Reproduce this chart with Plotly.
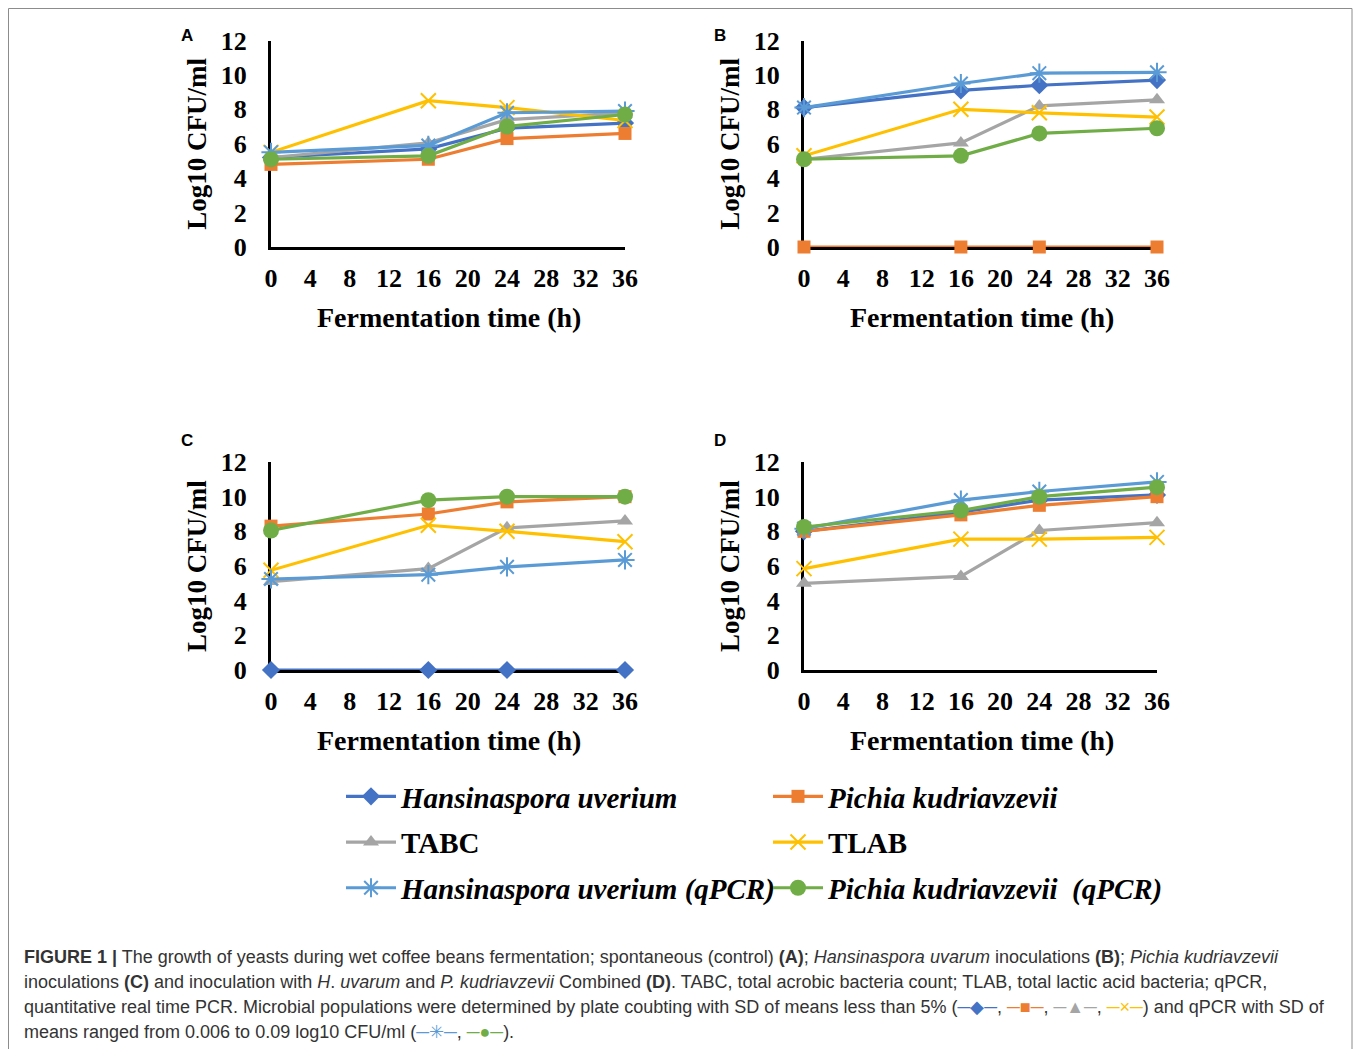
import plotly.graph_objects as go

W, H = 1357, 1049

# ---------------- data ----------------
times = [0, 16, 24, 36]
x_ticks = [0, 4, 8, 12, 16, 20, 24, 28, 32, 36]
y_ticks = [0, 2, 4, 6, 8, 10, 12]

series_names = [
    "<i>Hansinaspora uverium</i>",
    "<i>Pichia kudriavzevii</i>",
    "TABC",
    "TLAB",
    "<i>Hansinaspora uverium (qPCR)</i>",
    "<i>Pichia kudriavzevii  (qPCR)</i>",
]

# Panel A: spontaneous (control)
hu_A = [5.2, 5.7, 6.9, 7.2]
pk_A = [4.8, 5.1, 6.3, 6.6]
tabc_A = [5.2, 6.05, 7.4, 7.8]
tlab_A = [5.5, 8.5, 8.1, 7.35]
huq_A = [5.5, 5.9, 7.8, 7.9]
pkq_A = [5.1, 5.3, 7.0, 7.7]

# Panel B: H. uvarum inoculation
hu_B = [8.1, 9.1, 9.4, 9.7]
pk_B = [0, 0, 0, 0]
tabc_B = [5.1, 6.05, 8.2, 8.55]
tlab_B = [5.3, 8.0, 7.8, 7.55]
huq_B = [8.1, 9.5, 10.1, 10.15]
pkq_B = [5.1, 5.3, 6.6, 6.9]

# Panel C: P. kudriavzevii inoculation
hu_C = [0, 0, 0, 0]
pk_C = [8.3, 9.0, 9.7, 10.0]
tabc_C = [5.1, 5.85, 8.2, 8.6]
tlab_C = [5.75, 8.35, 8.0, 7.4]
huq_C = [5.25, 5.5, 5.95, 6.35]
pkq_C = [8.05, 9.8, 10.0, 10.0]

# Panel D: combined inoculation
hu_D = [8.0, 9.1, 9.8, 10.1]
pk_D = [8.0, 8.95, 9.5, 10.0]
tabc_D = [5.0, 5.4, 8.05, 8.5]
tlab_D = [5.85, 7.55, 7.55, 7.65]
huq_D = [8.15, 9.8, 10.3, 10.85]
pkq_D = [8.25, 9.2, 10.0, 10.55]

panel_letters = ["A", "B", "C", "D"]

# ---------------- styles ----------------
colors = ["#4472C4", "#ED7D31", "#A5A5A5", "#FFC000", "#5B9BD5", "#70AD47"]
symbols = ["diamond", "square", "triangle-up", "x-thin-open", "asterisk-open", "circle"]
msizes = [14, 13, 14, 15, 16, 16]
legend_ids = ["legend", "legend2", "legend", "legend2", "legend", "legend2"]

SERIF = "Liberation Serif, Times New Roman, serif"
SANS = "Liberation Sans, Arial, sans-serif"


def px_x(px):
    return px / W


def px_y(py):
    return 1 - py / H


# panel geometry in pixels: (x at 0h, x at 36h, y at 12, y at 0)
geom = [
    (271, 625, 40.5, 247),
    (804, 1157, 40.5, 247),
    (271, 625, 462, 670),
    (804, 1157, 462, 670),
]

panels = [
    [hu_A, pk_A, tabc_A, tlab_A, huq_A, pkq_A],
    [hu_B, pk_B, tabc_B, tlab_B, huq_B, pkq_B],
    [hu_C, pk_C, tabc_C, tlab_C, huq_C, pkq_C],
    [hu_D, pk_D, tabc_D, tlab_D, huq_D, pkq_D],
]

fig = go.Figure()
layout = dict(
    width=W,
    height=H,
    margin=dict(l=0, r=0, t=0, b=0, pad=0, autoexpand=False),
    paper_bgcolor="white",
    plot_bgcolor="rgba(0,0,0,0)",
    showlegend=True,
)

annotations = []
for p, data in enumerate(panels):
    sfx = "" if p == 0 else str(p + 1)
    x0, x1, ytop, ybot = geom[p]
    for i, vals in enumerate(data):
        fig.add_trace(
            go.Scatter(
                x=times,
                y=vals,
                mode="lines+markers",
                name=series_names[i],
                line=dict(color=colors[i], width=3.2),
                marker=dict(
                    symbol=symbols[i],
                    size=msizes[i],
                    color=colors[i],
                    line=dict(color=colors[i], width=2 if "open" in symbols[i] else 0),
                ),
                xaxis="x" + sfx,
                yaxis="y" + sfx,
                cliponaxis=False,
                showlegend=(p == 0),
                legend=legend_ids[i],
                legendgroup="g%d" % i,
            )
        )
    layout["xaxis" + sfx] = dict(
        domain=[px_x(x0), px_x(x1)],
        range=[0, 36],
        anchor="y" + sfx,
        tickmode="array",
        tickvals=x_ticks,
        ticktext=[str(t) for t in x_ticks],
        showline=True,
        linecolor="black",
        linewidth=3,
        showgrid=False,
        zeroline=False,
        ticks="",
        automargin=False,
        ticklabelstandoff=6,
        tickfont=dict(family=SERIF, size=26, color="black", weight="bold"),
        layer="below traces",
        fixedrange=True,
    )
    layout["yaxis" + sfx] = dict(
        domain=[px_y(ybot), px_y(ytop)],
        range=[0, 12],
        anchor="x" + sfx,
        tickmode="array",
        tickvals=y_ticks,
        ticktext=[str(t) for t in y_ticks],
        showline=True,
        linecolor="black",
        linewidth=3,
        showgrid=False,
        zeroline=False,
        ticks="",
        automargin=False,
        ticklabelstandoff=16,
        tickfont=dict(family=SERIF, size=26, color="black", weight="bold"),
        layer="below traces",
        fixedrange=True,
    )
    # axis titles
    annotations.append(dict(
        text="<b>Fermentation time (h)</b>",
        x=px_x((x0 + x1) / 2 + 1), y=px_y(ybot + 70),
        xref="paper", yref="paper", xanchor="center", yanchor="middle",
        showarrow=False, font=dict(family=SERIF, size=28, color="black"),
    ))
    annotations.append(dict(
        text="<b>Log10 CFU/ml</b>",
        x=px_x(x0 - 74), y=px_y((ytop + ybot) / 2),
        xref="paper", yref="paper", xanchor="center", yanchor="middle",
        textangle=-90,
        showarrow=False, font=dict(family=SERIF, size=27, color="black"),
    ))
    # panel letter
    annotations.append(dict(
        text="<b>%s</b>" % panel_letters[p],
        x=px_x(x0 - 84), y=px_y(ytop - 5 if p < 2 else ytop - 22),
        xref="paper", yref="paper", xanchor="center", yanchor="middle",
        showarrow=False, font=dict(family=SANS, size=17, color="black"),
    ))

legend_common = dict(
    font=dict(family=SERIF, size=29, color="black", weight="bold"),
    bgcolor="rgba(0,0,0,0)",
    borderwidth=0,
    xanchor="left",
    yanchor="top",
    orientation="v",
    tracegroupgap=5,
    itemwidth=50,
    itemclick=False,
    itemdoubleclick=False,
)
layout["legend"] = dict(legend_common, x=px_x(341), y=px_y(771))
layout["legend2"] = dict(legend_common, x=px_x(768), y=px_y(771))

# caption
cap_font = dict(family=SANS, size=18, color="#333333")


def sym(color, glyph):
    return '<span style="color:%s">─%s─</span>' % (color, glyph)


caption_lines = [
    "<b>FIGURE 1 |</b> The growth of yeasts during wet coffee beans fermentation; spontaneous (control) <b>(A)</b>; "
    "<i>Hansinaspora uvarum</i> inoculations <b>(B)</b>; <i>Pichia kudriavzevii</i>",
    "inoculations <b>(C)</b> and inoculation with <i>H</i>. <i>uvarum</i> and <i>P. kudriavzevii</i> Combined <b>(D)</b>. "
    "TABC, total acrobic bacteria count; TLAB, total lactic acid bacteria; qPCR,",
    "quantitative real time PCR. Microbial populations were determined by plate coubting with SD of means less than 5% ("
    + sym(colors[0], "◆") + ", " + sym(colors[1], "■") + ", " + sym(colors[2], "▲") + ", " + sym(colors[3], "×")
    + ") and qPCR with SD of",
    "means ranged from 0.006 to 0.09 log10 CFU/ml (" + sym(colors[4], "✳") + ", " + sym(colors[5], "●") + ").",
]
for k, line in enumerate(caption_lines):
    annotations.append(dict(
        text=line, x=px_x(22), y=px_y(957 + 25 * k),
        xref="paper", yref="paper", xanchor="left", yanchor="middle",
        showarrow=False, font=cap_font,
    ))

layout["annotations"] = annotations
layout["shapes"] = [dict(
    type="rect", xref="paper", yref="paper",
    x0=px_x(8.5), x1=px_x(1352), y0=px_y(1060), y1=px_y(8.5),
    line=dict(color="#8c8c8c", width=1), fillcolor="rgba(0,0,0,0)", layer="below",
)]

fig.update_layout(**layout)
fig.write_html(
    "out.html",
    config={"displayModeBar": False},
    post_script="document.body.style.margin='0';document.body.style.overflow='hidden';",
)
